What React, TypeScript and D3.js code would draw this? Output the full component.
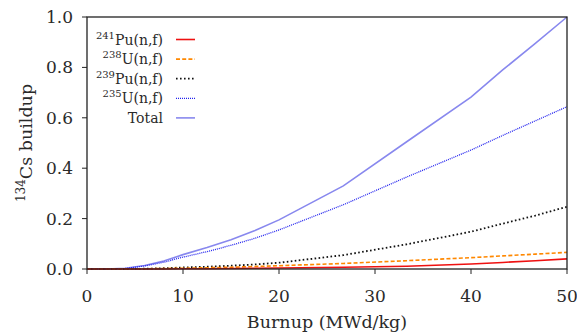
import React from "react";
import * as d3 from "d3";

const burnup = [0, 2, 4, 6, 8, 10, 12.5, 15, 17.5, 20, 26.7, 33.3, 40, 43.3, 46.7, 50];
const pu241 = [0, 0, 0, 0, 0, 0.001, 0.001, 0.002, 0.003, 0.004, 0.007, 0.011, 0.02, 0.026, 0.033, 0.04];
const u238 = [0, 0, 0, 0.001, 0.002, 0.003, 0.005, 0.007, 0.01, 0.013, 0.022, 0.033, 0.045, 0.052, 0.059, 0.066];
const pu239 = [0, 0, 0, 0.001, 0.003, 0.006, 0.009, 0.013, 0.018, 0.025, 0.055, 0.098, 0.148, 0.18, 0.212, 0.247];
const u235 = [0, 0, 0.002, 0.012, 0.027, 0.047, 0.069, 0.094, 0.122, 0.155, 0.255, 0.365, 0.472, 0.53, 0.588, 0.644];
const total = [0, 0, 0.003, 0.014, 0.032, 0.057, 0.085, 0.116, 0.153, 0.195, 0.33, 0.505, 0.682, 0.79, 0.895, 1.0];

const xTicks = [0, 10, 20, 30, 40, 50];
const yTicks = [0, 0.2, 0.4, 0.6, 0.8, 1.0];

const seriesList = [
  { sup: "241", name: "Pu(n,f)", values: pu241, color: "#ee1111", dash: "", width: 1.6 },
  { sup: "238", name: "U(n,f)", values: u238, color: "#ff8800", dash: "4,2.2", width: 1.6 },
  { sup: "239", name: "Pu(n,f)", values: pu239, color: "#111111", dash: "1.6,2.4", width: 1.8 },
  { sup: "235", name: "U(n,f)", values: u235, color: "#2222ee", dash: "1,1", width: 1.3 },
  { sup: "", name: "Total", values: total, color: "#8888ee", dash: "", width: 1.6 },
];

const W = 577;
const H = 332;
const L = 87, R = 567, T = 17, B = 269;
const FONT = "DejaVu Serif";
const TXT = "#2a2a2a";

export default function App() {
  const x = d3.scaleLinear().domain([0, 50]).range([L, R]);
  const y = d3.scaleLinear().domain([0, 1]).range([B, T]);
  const line = d3.line<number>().x((_, i) => x(burnup[i])).y((d) => y(d));
  const order = [4, 3, 2, 1, 0];
  return (
    <svg width={W} height={H} style={{ position: "absolute", left: 0, top: 0, fontFamily: FONT }}>
      <rect width={W} height={H} fill="white" />
      {order.map((k) => {
        const s = seriesList[k];
        return (
          <path key={k} d={line(s.values) || ""} fill="none" stroke={s.color}
            strokeWidth={s.width} strokeDasharray={s.dash || undefined} />
        );
      })}
      <rect x={L} y={T} width={R - L} height={B - T} fill="none" stroke="#222" strokeWidth={1.3} />
      {xTicks.map((t) => (
        <g key={"x" + t}>
          <line x1={x(t)} x2={x(t)} y1={B} y2={B + 5} stroke="#222" strokeWidth={1} />
          <text x={x(t)} y={302} textAnchor="middle" fontSize={17} fill={TXT}>{t}</text>
        </g>
      ))}
      {yTicks.map((t) => (
        <g key={"y" + t}>
          <line x1={L - 5} x2={L} y1={y(t)} y2={y(t)} stroke="#222" strokeWidth={1} />
          <text x={73} y={y(t) + 6} textAnchor="end" fontSize={17} fill={TXT}>{t.toFixed(1)}</text>
        </g>
      ))}
      <text x={(L + R) / 2} y={328} textAnchor="middle" fontSize={17.5} fill={TXT}>Burnup (MWd/kg)</text>
      <text transform={`translate(32, ${(T + B) / 2}) rotate(-90)`} textAnchor="middle" fontSize={17.5} fill={TXT}>
        <tspan fontSize={12} dy={-7}>134</tspan>
        <tspan dy={7}>Cs buildup</tspan>
      </text>
      {seriesList.map((s, i) => {
        const cy = 39.5 + i * 19.6;
        return (
          <g key={"lg" + i}>
            <text x={163} y={cy + 5} textAnchor="end" fontSize={14} fill={TXT}>
              {s.sup ? <tspan fontSize={10} dy={-6}>{s.sup}</tspan> : null}
              {s.sup ? <tspan dy={6}>{s.name}</tspan> : <tspan>{s.name}</tspan>}
            </text>
            <line x1={176} x2={195} y1={cy} y2={cy} stroke={s.color} strokeWidth={s.width}
              strokeDasharray={s.dash || undefined} />
          </g>
        );
      })}
    </svg>
  );
}
